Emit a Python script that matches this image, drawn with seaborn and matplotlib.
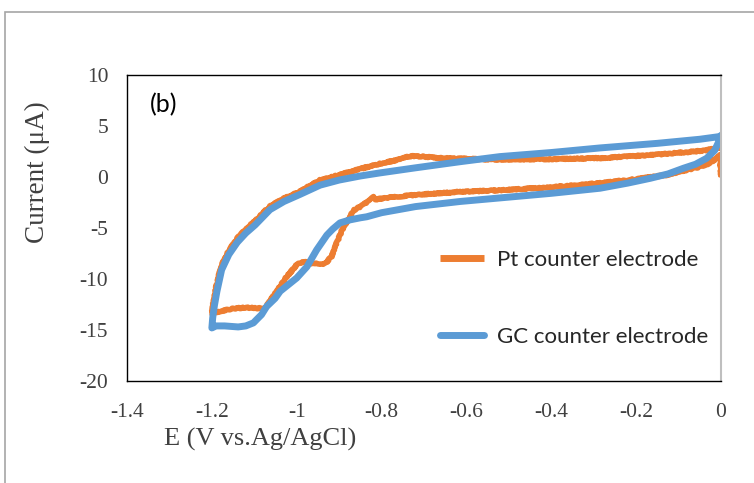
import matplotlib
matplotlib.use("Agg")
import matplotlib.pyplot as plt
import seaborn as sns
import pandas as pd
from matplotlib.patches import Rectangle
from matplotlib.lines import Line2D

# ---- data ----
# Pt counter electrode: cathodic (lower) branch 0 -> -1.2 V, then anodic (upper) branch back to 0 V
pt_E = [0.0, -0.002, -0.01, -0.03, -0.05, -0.09, -0.128, -0.2, -0.285, -0.4, -0.521, -0.615,
        -0.72, -0.79, -0.815, -0.82, -0.825, -0.85, -0.867, -0.874, -0.89, -0.906, -0.918,
        -0.933, -0.961, -0.984, -1.0, -1.024, -1.059, -1.075, -1.12, -1.15, -1.185, -1.2,
        -1.199, -1.196, -1.191, -1.184, -1.175, -1.16, -1.14, -1.12, -1.098, -1.063, -1.03,
        -0.992, -0.945, -0.9, -0.85, -0.804, -0.76, -0.733, -0.7, -0.66, -0.615, -0.521,
        -0.4, -0.285, -0.15, -0.05, -0.01, 0.0]
pt_I = [-0.1, 2.2, 1.83, 1.3, 1.0, 0.6, 0.2, -0.2, -0.6, -1.0, -1.3, -1.45,
        -1.75, -2.05, -2.2, -1.95, -2.2, -2.9, -3.3, -3.9, -4.9, -6.5, -7.8,
        -8.5, -8.5, -8.3, -8.6, -9.8, -11.9, -12.9, -12.8, -12.9, -13.2, -13.4,
        -12.9, -12.2, -11.0, -9.7, -8.5, -7.2, -6.0, -5.1, -4.3, -2.85, -2.1,
        -1.4, -0.3, 0.2, 0.8, 1.3, 1.7, 2.05, 2.0, 1.85, 1.8, 1.7,
        1.75, 1.85, 2.2, 2.55, 2.8, 2.9]

# GC counter electrode
gc_E = [0.0, -0.006, -0.015, -0.034, -0.06, -0.089, -0.125, -0.167, -0.22, -0.285, -0.4,
        -0.521, -0.615, -0.72, -0.8, -0.835, -0.85, -0.874, -0.898, -0.915, -0.929, -0.953,
        -0.976, -1.0, -1.039, -1.051, -1.071, -1.083, -1.095, -1.102, -1.12, -1.138, -1.17,
        -1.19, -1.2,
        -1.198, -1.194, -1.188, -1.177, -1.16, -1.14, -1.12, -1.098, -1.063, -1.03, -0.992,
        -0.945, -0.9, -0.85, -0.804, -0.72, -0.615, -0.521, -0.4, -0.285, -0.15, -0.05,
        -0.006, 0.0]
gc_I = [4.05, 3.4, 2.6, 1.83, 1.25, 0.85, 0.3, -0.13, -0.6, -1.1, -1.6,
        -2.05, -2.4, -2.9, -3.5, -3.9, -4.0, -4.2, -4.5, -5.1, -5.7, -7.15,
        -8.8, -9.9, -11.2, -11.9, -12.7, -13.5, -14.0, -14.3, -14.6, -14.7, -14.6,
        -14.6, -14.8,
        -13.8, -12.6, -11.2, -9.1, -7.6, -6.4, -5.5, -4.7, -3.2, -2.4, -1.7,
        -0.8, -0.3, 0.1, 0.4, 0.9, 1.5, 2.0, 2.4, 2.85, 3.3, 3.7,
        3.95, 4.05]

series_names = ["Pt counter electrode", "GC counter electrode"]
x_ticks = [-1.4, -1.2, -1.0, -0.8, -0.6, -0.4, -0.2, 0.0]
x_tick_labels = ["-1.4", "-1.2", "-1", "-0.8", "-0.6", "-0.4", "-0.2", "0"]
y_ticks = [-20, -15, -10, -5, 0, 5, 10]
y_tick_labels = ["-20", "-15", "-10", "-5", "0", "5", "10"]

PT_COLOR = "#ED7D31"
GC_COLOR = "#5B9BD5"

# ---- styling ----
sns.set_theme(style="white")
plt.rcParams["font.family"] = ["Liberation Serif", "DejaVu Serif"]

W, H = 754, 483
fig = plt.figure(figsize=(W / 100, H / 100), dpi=100)
ax = fig.add_axes([127 / W, 1 - 381 / H, (721 - 127) / W, (381 - 75) / H])

pt_df = pd.DataFrame({"E": pt_E, "I": pt_I})
gc_df = pd.DataFrame({"E": gc_E, "I": gc_I})

sns.lineplot(data=pt_df, x="E", y="I", sort=False, estimator=None, ax=ax,
             color=PT_COLOR, linewidth=4.0,
             solid_joinstyle="round", solid_capstyle="butt")
sns.lineplot(data=gc_df, x="E", y="I", sort=False, estimator=None, ax=ax,
             color=GC_COLOR, linewidth=5.0,
             solid_joinstyle="round", solid_capstyle="round")
ax.lines[0].set_sketch_params(scale=0.6, length=2.0, randomness=4.0)

ax.set_xlim(-1.4, 0)
ax.set_ylim(-20, 10)
ax.set_xticks(x_ticks)
ax.set_xticklabels(x_tick_labels)
ax.set_yticks(y_ticks)
ax.set_yticklabels(y_tick_labels)
ax.tick_params(axis="both", length=0, labelsize=15.5, colors="#404040")
ax.tick_params(axis="x", pad=16)
ax.tick_params(axis="y", pad=13.5)

for side in ["top", "left", "bottom"]:
    ax.spines[side].set_color("#000000")
    ax.spines[side].set_linewidth(1.0)
ax.spines["right"].set_color("#BFBFBF")
ax.spines["right"].set_linewidth(1.5)

ax.set_xlabel("E (V vs.Ag/AgCl)", fontsize=19, color="#404040")
ax.set_ylabel("Current (μA)", fontsize=19.5, color="#404040")
ax.xaxis.set_label_coords((260 - 127) / 594, (381 - 428) / 306)
ax.yaxis.set_label_coords((50 - 127) / 594, (381 - 172) / 306)

ax.text((150 - 127) / 594, (381 - 105) / 306, "(b)", transform=ax.transAxes, fontsize=18,
        family=["Lato", "DejaVu Sans"], color="#000000", va="center", ha="left")

handles = [Line2D([], [], color=PT_COLOR, linewidth=5, solid_capstyle="butt"),
           Line2D([], [], color=GC_COLOR, linewidth=5, solid_capstyle="round")]
ax.legend(handles, series_names, loc="upper left",
          bbox_to_anchor=((440 - 127) / 594, (381 - 250) / 306),
          frameon=False, labelspacing=2.55, handlelength=2.0,
          handletextpad=0.55, borderpad=0, borderaxespad=0,
          prop={"family": ["Lato", "DejaVu Sans"], "size": 16})

fig.patches.append(Rectangle((5 / W, -0.1), 1.2, 1 - 12 / H + 0.1, transform=fig.transFigure,
                             fill=False, edgecolor="#A6A6A6", linewidth=1.2))

fig.savefig("out.png", dpi=100)
